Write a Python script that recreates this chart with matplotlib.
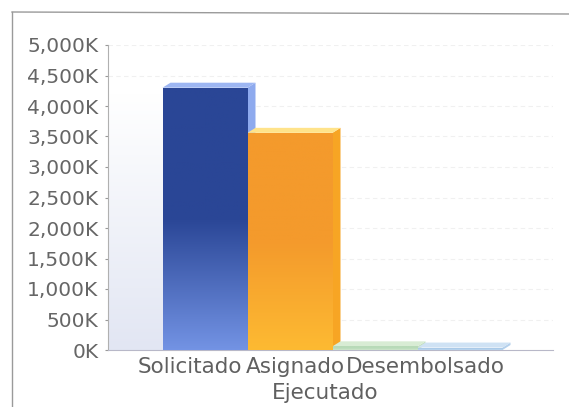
import matplotlib
matplotlib.use("Agg")
import matplotlib.pyplot as plt
import numpy as np
from matplotlib.patches import Polygon, Rectangle
from matplotlib.colors import LinearSegmentedColormap
from matplotlib.ticker import FuncFormatter
from matplotlib.lines import Line2D

# ---- data ----
categories = ["Solicitado", "Asignado", "Ejecutado", "Desembolsado"]
values_k = [4300, 3560, 60, 40]
yticks_k = [0, 500, 1000, 1500, 2000, 2500, 3000, 3500, 4000, 4500, 5000]
label_centers = [-0.176, 1.059, 1.412, 2.588]   # category-label anchor positions (in bar units)
label_rows = [0, 0, 1, 0]

# ---- styles ----
top_colors = ["#2a4696", "#f49a2c", "#b8dab8", "#a9c9e8"]
bottom_colors = ["#7393e4", "#fdba32", "#cfe6cc", "#bdd7ef"]
cap_colors = ["#9db6f2", "#ffe38a", "#d8ecd4", "#cfe2f4"]
side_colors = ["#8eaaee", "#f7a524", "#c4e0c0", "#b4d0ec"]

fig = plt.figure(figsize=(5.69, 4.07), dpi=100)
ax = fig.add_axes([108 / 569, 57 / 407, 445 / 569, 305 / 407])
ax.set_xlim(-97 / 85, 348 / 85)
ax.set_ylim(0, 5000)

dx = 8 / 85
dy = 5 / 305 * 5000

# faint gridlines
for t in yticks_k[1:]:
    ax.axhline(t, color="#f0f0f0", lw=0.8, ls=(0, (4, 3)), zorder=0)

# back wall shading on left
wall = np.linspace(0, 1, 256).reshape(-1, 1)
wall_cmap = LinearSegmentedColormap.from_list("w", ["#e2e6f3", "#ffffff"])
ax.imshow(wall, cmap=wall_cmap, extent=(-97 / 85, -0.5, 0, 4200), origin="lower",
          aspect="auto", zorder=0.5)

width = 1.0
for i, v in enumerate(values_k):
    x0 = i - width / 2
    x1 = i + width / 2
    side = Polygon([(x1, 0), (x1 + dx, dy), (x1 + dx, v + dy), (x1, v)],
                   closed=True, facecolor=side_colors[i], edgecolor="none", zorder=2)
    ax.add_patch(side)
    cap = Polygon([(x0, v), (x0 + dx, v + dy), (x1 + dx, v + dy), (x1, v)],
                  closed=True, facecolor=cap_colors[i], edgecolor="none", zorder=2)
    ax.add_patch(cap)
    front = Rectangle((x0, 0), width, v, facecolor="none", edgecolor="none", zorder=3)
    ax.add_patch(front)
    cmap = LinearSegmentedColormap.from_list("g%d" % i, [bottom_colors[i], top_colors[i], top_colors[i]])
    grad = np.linspace(0, 1, 256).reshape(-1, 1)
    im = ax.imshow(grad, cmap=cmap, extent=(x0, x1, 0, max(v, 1)), origin="lower",
                   aspect="auto", zorder=3)
    im.set_clip_path(front)

ax.set_xlim(-97 / 85, 348 / 85)
ax.set_ylim(0, 5000)

for s in ["top", "right"]:
    ax.spines[s].set_visible(False)
ax.spines["left"].set_color("#b0b0b0")
ax.spines["bottom"].set_color("#b8b8c8")
ax.spines["bottom"].set_linestyle((0, (3, 1)))
ax.set_yticks(yticks_k)
ax.yaxis.set_major_formatter(FuncFormatter(lambda v, p: "{:,.0f}K".format(v)))
ax.tick_params(axis="y", length=2, color="#999999", labelcolor="#666666",
               labelsize=14.5, pad=5)
ax.set_xticks([])

for name, c, r in zip(categories, label_centers, label_rows):
    ax.text(c, -0.022 - r * 0.085, name, transform=ax.get_xaxis_transform(),
            ha="center", va="top", fontsize=15.5, color="#606060")

fig.add_artist(Line2D([12 / 569, 1], [1 - 12 / 407, 1 - 14 / 407], color="#9a9a9a", lw=1))
fig.add_artist(Line2D([12 / 569, 12 / 569], [0, 1 - 12 / 407], color="#9a9a9a", lw=1))

fig.savefig("out.png", dpi=100)
